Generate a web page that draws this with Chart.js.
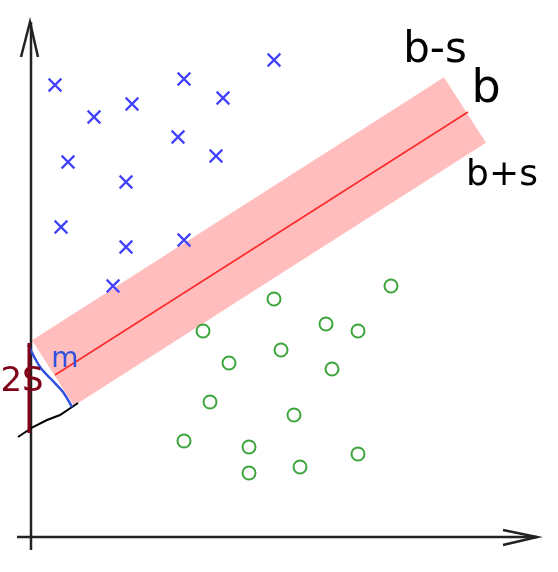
<!DOCTYPE html>
<html>
<head>
<meta charset="utf-8">
<script src="https://cdn.jsdelivr.net/npm/chart.js@4"></script>
<style>
html,body{margin:0;padding:0;background:#fff;}
#wrap{width:558px;height:572px;position:relative;}
</style>
</head>
<body>
<div id="wrap"><canvas id="c"></canvas></div>
<script>
// Data coordinates: origin at the axes' corner, y up.
const crossX = [24, 63, 101, 153, 192, 243, 147, 185, 37, 95, 30, 95, 153, 82];
const crossY = [452, 420, 433, 458, 439, 477, 400, 381, 375, 355, 310, 290, 297, 251];
const circleX = [360, 243, 172, 295, 327, 250, 198, 301, 179, 263, 153, 218, 218, 269, 327];
const circleY = [251, 238, 206, 213, 206, 187, 174, 168, 135, 122, 96, 90, 64, 70, 83];

const bandX = [22, 434];
const bandY = [164, 427];
const boundaryX = [24, 437];
const boundaryY = [162, 425];

const yAxisX = [0, 0];
const yAxisY = [-13, 515];
const yArrowX = [-10, -1, 7];
const yArrowY = [480, 515, 480];
const xAxisX = [-14, 506];
const xAxisY = [0, 0];
const xArrowX = [472, 506, 472];
const xArrowY = [7, 0, -8];

const widthLineX = [-2, -2];
const widthLineY = [194, 104];
const marginArcX = [-3, 9, 19, 32, 41];
const marginArcY = [192, 170, 159, 145, 130];
const baseLineX = [-13, 2, 16, 29, 47];
const baseLineY = [100, 110, 117, 122, 134];

const labelText = ['b-s', 'b', 'b+s', 'm', '2S'];
const labelX = [404, 455, 471, 34, -9];
const labelY = [486, 447, 361, 177, 155];

const pts = (xs, ys) => xs.map((x, i) => ({x: x, y: ys[i]}));

const labelStyles = [
  {font: '42px "DejaVu Sans"', color: '#000'},
  {font: '46px "DejaVu Sans"', color: '#000'},
  {font: '36px "DejaVu Sans"', color: '#000'},
  {font: '28px "DejaVu Sans"', color: '#3050e0'},
  {font: '34px "DejaVu Sans"', color: '#800018'}
];

const textPlugin = {
  id: 'sketchText',
  afterDatasetsDraw(chart) {
    const ctx = chart.ctx;
    const sx = chart.scales.x, sy = chart.scales.y;
    ctx.save();
    ctx.textAlign = 'center';
    ctx.textBaseline = 'middle';
    labelText.forEach((t, i) => {
      ctx.font = labelStyles[i].font;
      ctx.fillStyle = labelStyles[i].color;
      ctx.fillText(t, sx.getPixelForValue(labelX[i]), sy.getPixelForValue(labelY[i]));
    });
    ctx.restore();
  }
};

const lineDs = (data, color, width, order, extra) => Object.assign({
  type: 'line', data: data, showLine: true, borderColor: color, borderWidth: width,
  pointRadius: 0, fill: false, order: order, tension: 0
}, extra || {});

new Chart(document.getElementById('c'), {
  type: 'scatter',
  data: {
    datasets: [
      {data: pts(crossX, crossY), pointStyle: 'crossRot', pointRadius: 9, borderColor: 'rgb(65,65,255)', borderWidth: 2.2, order: 1},
      {data: pts(circleX, circleY), pointStyle: 'circle', pointRadius: 6.5, borderColor: 'rgb(60,165,60)', backgroundColor: 'rgba(0,0,0,0)', borderWidth: 2, order: 1},
      lineDs(pts(bandX, bandY), 'rgba(255,0,0,0.26)', 78, 10, {borderCapStyle: 'butt'}),
      lineDs(pts(boundaryX, boundaryY), 'rgb(255,40,40)', 1.5, 9),
      lineDs(pts(yAxisX, yAxisY), '#222', 2.5, 5),
      lineDs(pts(yArrowX, yArrowY), '#222', 2.5, 5),
      lineDs(pts(xAxisX, xAxisY), '#222', 2.5, 5),
      lineDs(pts(xArrowX, xArrowY), '#222', 2.5, 5),
      lineDs(pts(widthLineX, widthLineY), '#800018', 3, 4),
      lineDs(pts(marginArcX, marginArcY), '#3050e0', 2.5, 4, {tension: 0.3}),
      lineDs(pts(baseLineX, baseLineY), '#000', 2, 4)
    ]
  },
  options: {
    responsive: true,
    maintainAspectRatio: false,
    animation: false,
    layout: {padding: 0, autoPadding: false},
    plugins: {legend: {display: false}, tooltip: {enabled: false}},
    scales: {
      x: {type: 'linear', min: -31, max: 527, display: false},
      y: {type: 'linear', min: -35, max: 537, display: false}
    }
  },
  plugins: [textPlugin]
});
</script>
</body>
</html>
